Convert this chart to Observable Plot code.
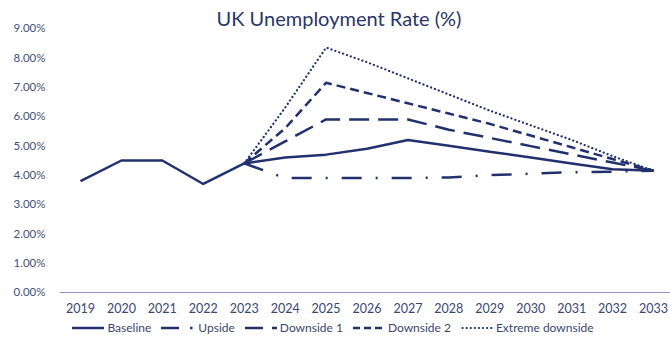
<!DOCTYPE html>
<html>
<head>
<meta charset="utf-8">
<script src="https://cdn.jsdelivr.net/npm/d3@7"></script>
<script src="https://cdn.jsdelivr.net/npm/@observablehq/plot@0.6"></script>
<style>
  html, body { margin: 0; padding: 0; background: #fff; }
  #wrap { position: relative; width: 670px; height: 339px; font-family: Lato, "Open Sans", sans-serif; }
  #title { position: absolute; left: 0; top: 5px; width: 678px; text-align: center; font-size: 20px; line-height: 26px; color: #2a3668; }
  #chart { position: absolute; left: 0; top: 0; }
  #legend { position: absolute; left: 0; top: 319px; width: 666px; display: flex; justify-content: center; align-items: center; font-size: 12px; color: #3a4672; line-height: 18px; }
  .item { display: flex; align-items: center; margin: 0 5px; }
  .item svg { margin-right: 3px; }
</style>
</head>
<body>
<div id="wrap">
  <div id="chart"></div>
  <div id="title">UK Unemployment Rate (%)</div>
  <div id="legend"></div>
</div>
<script>
const years = [2019, 2020, 2021, 2022, 2023, 2024, 2025, 2026, 2027, 2028, 2029, 2030, 2031, 2032, 2033];
const baseline   = [3.8, 4.5, 4.5, 3.7, 4.4, 4.6, 4.7, 4.9, 5.2, 5.0, 4.8, 4.6, 4.4, 4.2, 4.15];
const upside     = [null, null, null, null, 4.4, 3.9, 3.9, 3.9, 3.9, 3.92, 4.0, 4.05, 4.1, 4.12, 4.15];
const downside1  = [null, null, null, null, 4.4, 5.15, 5.9, 5.9, 5.9, 5.55, 5.27, 4.99, 4.71, 4.43, 4.15];
const downside2  = [null, null, null, null, 4.4, 5.6, 7.15, 6.8, 6.45, 6.1, 5.75, 5.35, 4.95, 4.55, 4.15];
const extreme    = [null, null, null, null, 4.4, 6.3, 8.35, 7.85, 7.3, 6.75, 6.2, 5.7, 5.2, 4.65, 4.15];
const seriesNames = ["Baseline", "Upside", "Downside 1", "Downside 2", "Extreme downside"];
const yTicks = [0, 1, 2, 3, 4, 5, 6, 7, 8, 9];

const seriesValues = [baseline, upside, downside1, downside2, extreme];
const lineColor = "#22306e";
const styles = [
  { dash: null, legendDash: null, width: 2.5 },
  { dash: "20,14,2,14", legendDash: "18,11,2.5,20", width: 2.5 },
  { dash: "20,9", legendDash: "18,9", width: 2.5 },
  { dash: "9,5", legendDash: "7,4", width: 2.5 },
  { dash: "0.1,4", legendDash: "0.1,4", width: 2.2 }
];

const rows = seriesNames.map((name, s) =>
  years.map((yr, i) => ({ year: yr, value: seriesValues[s][i], series: name }))
       .filter(d => d.value != null)
);

const fmt = d3.format(".2%");

const plot = Plot.plot({
  width: 670,
  height: 318,
  marginTop: 28,
  marginBottom: 26,
  marginLeft: 80,
  marginRight: 17,
  style: { fontFamily: "Lato, 'Open Sans', sans-serif", fontSize: "12.5px", color: "#3a4672", background: "transparent" },
  x: { domain: [2019, 2033], axis: null },
  y: { domain: [0, 9], axis: null },
  marks: [
    Plot.ruleY([0], { x1: 2018.5, x2: 2033.5, stroke: "#8f97c2", strokeWidth: 1.2 }),
    Plot.axisX(years, { tickSize: 0, tickPadding: 12, label: null, tickFormat: d => String(d), fontSize: 12.5, fill: "#3a4672" }),
    Plot.axisY(yTicks, { tickSize: 0, tickPadding: 35, label: null, tickFormat: d => fmt(d / 100), fontSize: 11.5, fill: "#44507a" }),
    ...rows.map((data, s) => Plot.line(data, {
      x: "year", y: "value",
      stroke: lineColor,
      strokeWidth: styles[s].width,
      strokeDasharray: styles[s].dash,
      strokeLinejoin: "round",
      strokeLinecap: s === 4 ? "round" : "butt"
    }))
  ]
});
document.getElementById("chart").appendChild(plot);

const legend = document.getElementById("legend");
seriesNames.forEach((name, s) => {
  const item = document.createElement("div");
  item.className = "item";
  const ns = "http://www.w3.org/2000/svg";
  const svg = document.createElementNS(ns, "svg");
  const w = s === 1 ? 34 : 32;
  svg.setAttribute("width", w);
  svg.setAttribute("height", 10);
  const ln = document.createElementNS(ns, "line");
  ln.setAttribute("x1", s === 4 ? 1.5 : 0); ln.setAttribute("x2", w);
  ln.setAttribute("y1", 5); ln.setAttribute("y2", 5);
  ln.setAttribute("stroke", lineColor);
  ln.setAttribute("stroke-width", styles[s].width);
  if (styles[s].legendDash) ln.setAttribute("stroke-dasharray", styles[s].legendDash);
  if (s === 4) ln.setAttribute("stroke-linecap", "round");
  svg.appendChild(ln);
  const span = document.createElement("span");
  span.textContent = name;
  item.appendChild(svg);
  item.appendChild(span);
  legend.appendChild(item);
});
</script>
</body>
</html>
